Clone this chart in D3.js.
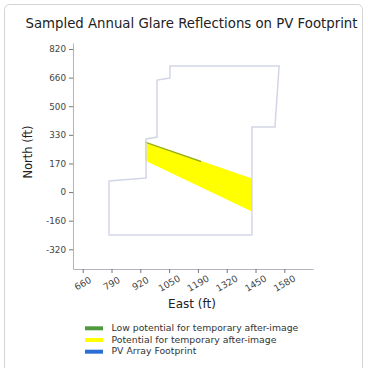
<!DOCTYPE html>
<html><head><meta charset="utf-8">
<script src="https://d3js.org/d3.v7.min.js"></script>
<style>body{margin:0;background:#fff}svg{display:block}</style>
</head><body><svg id="c" width="368" height="368"></svg>
<script>
// ---- data ----
const xTickValues = [660, 791.4, 922.8, 1054.2, 1185.6, 1317.0, 1448.4, 1579.8];
const xTickLabels = ["660","790","920","1050","1190","1320","1450","1580"];
const yTickValues = [-323, -159.3, 4.4, 168.1, 331.8, 495.5, 659.2, 822.9];
const yTickLabels = ["-320","-160","0","170","330","500","660","820"];
// PV array footprint outline (East ft, North ft)
const footprintX = [1058, 1058, 999, 999, 949, 949, 780, 780, 1432, 1432, 1537, 1556];
const footprintY = [726, 657, 645, 319, 308, 85, 68, -241, -241, 377, 377, 726];
// potential for temporary after-image (yellow)
const glareX = [944, 1432, 1432, 944];
const glareY = [294, 82, -107, 185];
// low potential for temporary after-image (green)
const lowX = [944, 1200, 1200, 944];
const lowY = [294, 183, 175, 286];
const legendLabels = ["Low potential for temporary after-image","Potential for temporary after-image","PV Array Footprint"];
const legendColors = ["#4f9a3e","#ffff00","#2b6fd6"];

const svg = d3.select("#c");
const font = "DejaVu Sans, sans-serif";

svg.append("rect").attr("x",4.5).attr("y",4.5).attr("width",358).attr("height",380)
  .attr("rx",5).attr("fill","#fff").attr("stroke","#d4d4d4");

const x = d3.scaleLinear().domain([615.7, 1710.6]).range([73, 313]);
const y = d3.scaleLinear().domain([-435.7, 857.2]).range([269, 43]);

const pts = (xs, ys) => xs.map((v,i)=>[x(v), y(ys[i])]);
const line = d3.line().curve(d3.curveLinearClosed);

svg.append("path").attr("d", line(pts(glareX, glareY))).attr("fill","#ffff00").attr("stroke","none");
svg.append("path").attr("d", line(pts(lowX, lowY))).attr("fill","#6e8f2a").attr("opacity",0.75);
svg.append("path").attr("d", line(pts(footprintX, footprintY))).attr("fill","none")
  .attr("stroke","#d3d6e6").attr("stroke-width",1.5);

// axes
const xa = svg.append("g").attr("transform","translate(0,269)")
  .call(d3.axisBottom(x).tickValues(xTickValues).tickFormat((d,i)=>xTickLabels[i]).tickSize(4).tickSizeOuter(0));
const ya = svg.append("g").attr("transform","translate(73,0)")
  .call(d3.axisLeft(y).tickValues(yTickValues).tickFormat((d,i)=>yTickLabels[i]).tickSize(4).tickSizeOuter(0));
[xa, ya].forEach(g=>{
  g.select(".domain").attr("stroke","#b4b4c0");
  g.selectAll(".tick line").attr("stroke","#777");
  g.selectAll("text").attr("font-family",font).attr("fill","#444");
});
ya.selectAll("text").attr("x",-7).attr("font-size",8.8);
xa.selectAll("text").attr("font-size",9.2).attr("y",0).attr("dy",null)
  .attr("transform","translate(0,15) rotate(-30)").attr("text-anchor","middle")
  .attr("dominant-baseline","middle");

// title & labels
svg.append("text").attr("x",191.5).attr("y",28).attr("text-anchor","middle")
  .attr("font-family",font).attr("font-size",13.3).attr("fill","#222")
  .text("Sampled Annual Glare Reflections on PV Footprint");
svg.append("text").attr("x",192).attr("y",308).attr("text-anchor","middle")
  .attr("font-family",font).attr("font-size",12).attr("fill","#222").text("East (ft)");
svg.append("text").attr("transform","translate(32,152) rotate(-90)").attr("text-anchor","middle")
  .attr("font-family",font).attr("font-size",11.5).attr("fill","#222").text("North (ft)");

// legend
const lg = svg.append("g");
legendLabels.forEach((t,i)=>{
  const yy = 328.3 + i*11.7;
  lg.append("rect").attr("x",85).attr("y",yy-2).attr("width",18).attr("height",4).attr("fill",legendColors[i]);
  lg.append("text").attr("x",111.5).attr("y",yy).attr("dominant-baseline","middle")
    .attr("font-family",font).attr("font-size",9.3).attr("fill","#333").text(t);
});
</script></body></html>
